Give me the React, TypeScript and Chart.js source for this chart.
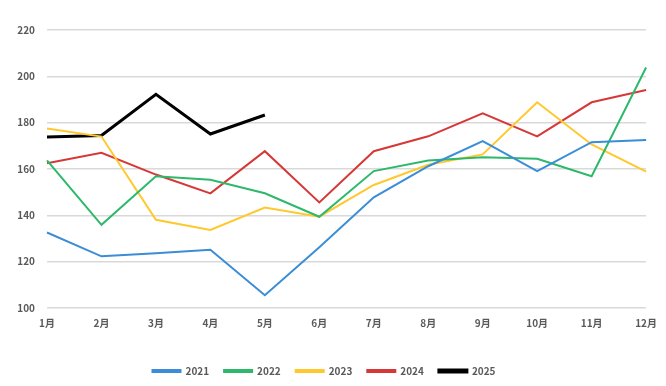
import React, { useEffect, useRef } from "react";
import { Chart, registerables } from "chart.js";

Chart.register(...registerables);

const months = ["1月", "2月", "3月", "4月", "5月", "6月", "7月", "8月", "9月", "10月", "11月", "12月"];
const s2021 = [132.6, 122.3, 123.6, 125.1, 105.5, 126.2, 147.8, 161.2, 172.0, 159.1, 171.6, 172.5];
const s2022 = [163.7, 135.9, 156.9, 155.4, 149.5, 139.4, 159.1, 163.7, 165.1, 164.4, 156.9, 203.8];
const s2023 = [177.5, 174.0, 138.1, 133.7, 143.4, 139.4, 153.1, 161.8, 166.3, 188.8, 170.6, 158.9];
const s2024 = [162.5, 167.0, 157.6, 149.5, 167.7, 145.6, 167.7, 174.1, 184.0, 174.1, 188.8, 194.1];
const s2025 = [173.8, 174.5, 192.2, 175.1, 183.3];
const yTicks = [100, 120, 140, 160, 180, 200, 220];

const FONT = "'Noto Sans CJK SC', 'Noto Sans', sans-serif";

export default function App() {
  const ref = useRef<HTMLCanvasElement | null>(null);
  useEffect(() => {
    const ds = (label: string, data: number[], color: string, w: number) => ({
      label,
      data,
      borderColor: color,
      backgroundColor: color,
      borderWidth: w,
      pointRadius: 0,
      tension: 0,
      fill: false,
    });
    const chart = new Chart(ref.current as HTMLCanvasElement, {
      type: "line",
      data: {
        labels: months,
        datasets: [
          ds("2021", s2021, "#3a8dd6", 2),
          ds("2022", s2022, "#2db86a", 2),
          ds("2023", s2023, "#ffc82c", 2),
          ds("2024", s2024, "#d63838", 2),
          ds("2025", s2025, "#000000", 3),
        ],
      },
      options: {
        animation: false,
        responsive: false,
        maintainAspectRatio: false,
        layout: { padding: { top: 30, right: 18, left: 0, bottom: 0 } },
        plugins: {
          tooltip: { enabled: false },
          legend: {
            position: "bottom",
            labels: {
              boxWidth: 28,
              boxHeight: 2,
              padding: 15,
              color: "#595959",
              font: { family: FONT, size: 10, weight: "bold" },
            },
          },
        },
        scales: {
          x: {
            offset: false,
            grid: { display: false, drawTicks: false },
            border: { display: false },
            ticks: {
              color: "#595959",
              font: { family: FONT, size: 10, weight: "bold" },
              padding: 9,
              maxRotation: 0,
              autoSkip: false,
            },
            afterFit: (s: any) => {
              s.height = 43;
            },
          },
          y: {
            min: 100,
            max: 220,
            grid: { color: "#d9d9d9", lineWidth: 1.5, drawTicks: false },
            border: { display: false },
            afterBuildTicks: (s: any) => {
              s.ticks = yTicks.map((v) => ({ value: v }));
            },
            ticks: {
              color: "#595959",
              font: { family: FONT, size: 10, weight: "bold" },
              padding: 12,
            },
            afterFit: (s: any) => {
              s.width = 47;
            },
          },
        },
      },
    });
    return () => chart.destroy();
  }, []);
  return (
    <div style={{ position: "fixed", left: 0, top: 0, width: 666, height: 386, background: "#fff" }}>
      <canvas ref={ref} width={666} height={386} />
    </div>
  );
}
